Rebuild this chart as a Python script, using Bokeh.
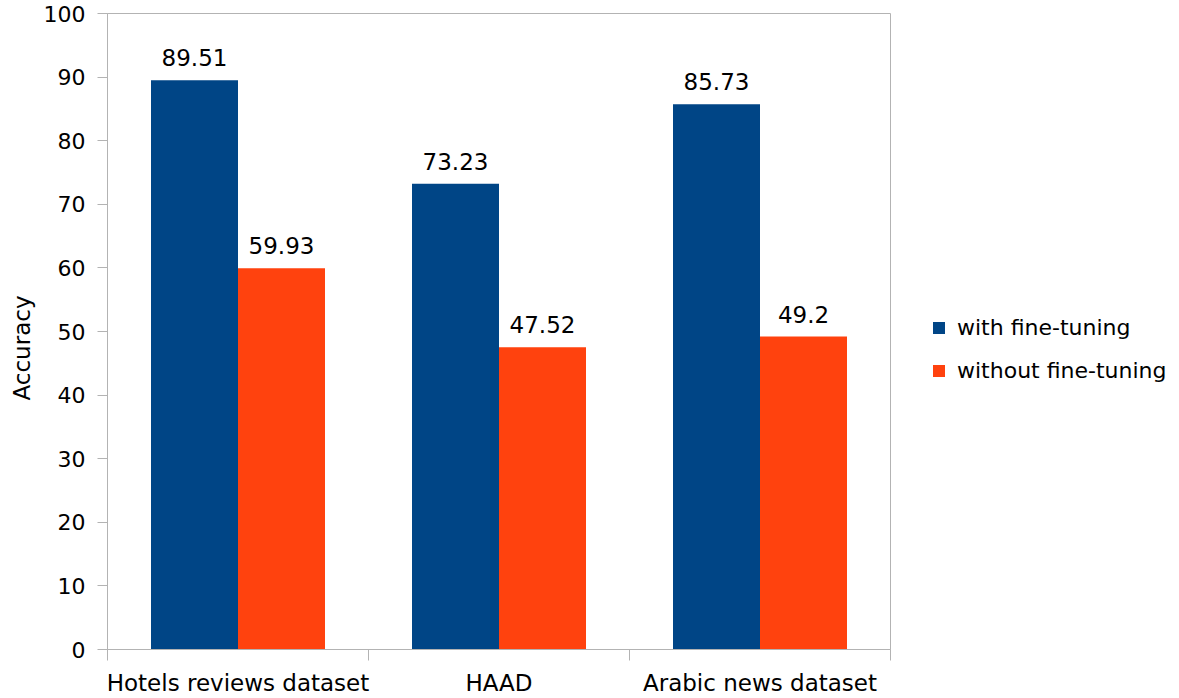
from bokeh.plotting import figure
from bokeh.models import (ColumnDataSource, Range1d, LinearAxis, FixedTicker, Title,
                          SingleIntervalTicker, LabelSet, Legend, LegendItem)
from bokeh.core.properties import value
from bokeh.transform import dodge
from bokeh.embed import file_html
from bokeh.resources import INLINE

categories = ["Hotels reviews dataset", "HAAD", "Arabic news dataset"]
with_ft = [89.51, 73.23, 85.73]
without_ft = [59.93, 47.52, 49.2]
with_labels = ["89.51", "73.23", "85.73"]
without_labels = ["59.93", "47.52", "49.2"]
series_names = ["with fine-tuning", "without fine-tuning"]
colors = ["#004586", "#ff420e"]

FONT = "DejaVu Sans"
GRAY = "#b3b3b3"

pos = [i + 0.5 for i in range(len(categories))]
src = ColumnDataSource(dict(x=pos, w=with_ft, wo=without_ft,
                            wl=with_labels, wol=without_labels))

p = figure(frame_width=783, frame_height=636, min_border_left=107, min_border_right=278,
           min_border_top=13, min_border_bottom=46,
           x_range=Range1d(0, len(categories)), y_range=Range1d(0, 100),
           output_backend="svg", toolbar_location=None, x_axis_type=None, y_axis_type=None)
p.xgrid.visible = False
p.ygrid.visible = False
p.outline_line_color = GRAY
p.outline_line_width = 1

bw = 1 / 3
r1 = p.vbar(x=dodge("x", -bw / 2, range=p.x_range), top="w", width=bw, source=src,
            fill_color=colors[0], line_color=None)
r2 = p.vbar(x=dodge("x", bw / 2, range=p.x_range), top="wo", width=bw, source=src,
            fill_color=colors[1], line_color=None)

for col, lab, off in (("w", "wl", -bw / 2), ("wo", "wol", bw / 2)):
    ls = LabelSet(x=dodge("x", off, range=p.x_range), y=col, text=lab, source=src,
                  text_align="center", text_baseline="bottom", y_offset=14,
                  text_font=value(FONT), text_font_size="23px", text_color="black")
    p.add_layout(ls)

xaxis = LinearAxis(ticker=FixedTicker(ticks=pos, minor_ticks=list(range(len(categories) + 1))))
xaxis.major_label_overrides = {pv: c for pv, c in zip(pos, categories)}
xaxis.major_tick_out = 0
xaxis.major_tick_in = 0
xaxis.minor_tick_out = 11
xaxis.minor_tick_in = 0
xaxis.minor_tick_line_color = GRAY
xaxis.axis_line_color = GRAY
xaxis.major_label_standoff = 9
xaxis.major_label_text_font = FONT
xaxis.major_label_text_font_size = "23px"
xaxis.major_label_text_color = "black"
p.add_layout(xaxis, "below")

yaxis = LinearAxis(ticker=SingleIntervalTicker(interval=10, num_minor_ticks=0))
yaxis.major_tick_out = 10
yaxis.major_tick_in = 0
yaxis.major_tick_line_color = GRAY
yaxis.minor_tick_line_color = None
yaxis.axis_line_color = GRAY
yaxis.major_label_standoff = 12
yaxis.major_label_text_font = FONT
yaxis.major_label_text_font_size = "22px"
yaxis.major_label_text_color = "black"
p.add_layout(yaxis, "left")

ytitle = Title(text="Accuracy", align="left", offset=249, standoff=8, vertical_align="top",
               text_font=FONT, text_font_size="23px", text_font_style="normal",
               text_color="black")
p.add_layout(ytitle, "left")

legend = Legend(items=[LegendItem(label=series_names[0], renderers=[r1]),
                       LegendItem(label=series_names[1], renderers=[r2])],
                location=(41, 266), orientation="vertical")
legend.padding = 0
legend.margin = 0
legend.spacing = 18
legend.glyph_width = 15
legend.glyph_height = 15
legend.label_height = 22
legend.label_standoff = 11
legend.label_text_font = FONT
legend.label_text_font_size = "22px"
legend.label_text_color = "black"
legend.border_line_color = None
legend.background_fill_alpha = 0
p.add_layout(legend, "right")

open("out.html", "w").write(file_html(p, INLINE))
